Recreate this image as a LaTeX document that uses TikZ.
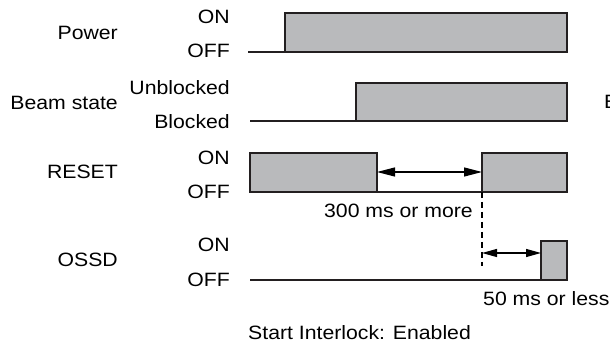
\documentclass[tikz,border=0pt]{standalone}
\usepackage{fontspec}
\setmainfont[FakeStretch=1.1]{Liberation Sans}
\usetikzlibrary{arrows.meta}
\definecolor{boxgray}{RGB}{185,186,188}
\definecolor{inkc}{RGB}{35,31,32}
\begin{document}
\begin{tikzpicture}[x=1pt,y=-1pt,
  sig/.style={draw=inkc, fill=boxgray, line width=1.5pt, inner sep=0pt, outer sep=0pt, anchor=south west},
  lvl/.style={draw=inkc, line width=1.5pt},
  lbl/.style={inner sep=0pt, font=\fontsize{19.3}{21}\selectfont, text=black},
  dim/.style={draw=black, line width=1.2pt, {Triangle[length=18pt,width=9pt]}-{Triangle[length=18pt,width=9pt]}},
  dimb/.style={draw=black, line width=1.2pt, {Triangle[length=15pt,width=8pt]}-{Triangle[length=15pt,width=8pt]}},
  guide/.style={draw=black, line width=1.2pt, dash pattern=on 6pt off 4pt}]
\useasboundingbox (0,0) rectangle (610,347);

% signal names
\node[lbl, anchor=base east] (nPower) at (118,40) {Power};
\node[lbl, anchor=base east] (nBeam) at (118,110) {Beam state};
\node[lbl, anchor=base east] (nReset) at (118,179) {RESET};
\node[lbl, anchor=base east] (nOssd) at (118,267) {OSSD};

% level names
\node[lbl, anchor=base east] (pOn) at (230,24) {ON};
\node[lbl, anchor=base east] (pOff) at (230,58) {OFF};
\node[lbl, anchor=base east] (bUn) at (230,95) {Unblocked};
\node[lbl, anchor=base east] (bBl) at (230,129) {Blocked};
\node[lbl, anchor=base east] (rOn) at (230,165) {ON};
\node[lbl, anchor=base east] (rOff) at (230,199) {OFF};
\node[lbl, anchor=base east] (oOn) at (230,252) {ON};
\node[lbl, anchor=base east] (oOff) at (230,287) {OFF};

% Power
\coordinate (pStart) at (248,52);
\node[sig, minimum width=282pt, minimum height=39pt] (pBox) at (285,52) {};
\draw[lvl] (pStart) -- (pBox.south west);

% Beam state
\coordinate (bStart) at (250,121);
\node[sig, minimum width=211pt, minimum height=38pt] (bBox) at (356,121) {};
\draw[lvl] (bStart) -- (bBox.south west);

% RESET
\node[sig, minimum width=127pt, minimum height=39pt] (rBox1) at (250,192) {};
\node[sig, minimum width=85pt, minimum height=39pt] (rBox2) at (482,192) {};
\draw[lvl] (rBox1.south east) -- (rBox2.south west);

% OSSD
\coordinate (oStart) at (250,280);
\node[sig, minimum width=26pt, minimum height=39pt] (oBox) at (541,280) {};
\draw[lvl] (oStart) -- (oBox.south west);

% timing dimensions
\coordinate (a1L) at (377,172);
\coordinate (a1R) at (482,172);
\draw[dim] (a1L) -- (a1R);
\coordinate (dEnd) at (482,266);
\draw[guide] (rBox2.south west) -- (dEnd);
\coordinate (a2L) at (482,253);
\coordinate (a2R) at (541,253);
\draw[dimb] (a2L) -- (a2R);

\node[lbl, anchor=base east] (t300) at (473,218) {300 ms or more};
\node[lbl, anchor=base west] (t50) at (483,305) {50 ms or less};
\node[lbl, anchor=base west] (tStart) at (248,339) {Start Interlock: Enabled};
\node[lbl, anchor=base west] (tE) at (604,109) {E};
\end{tikzpicture}
\end{document}
